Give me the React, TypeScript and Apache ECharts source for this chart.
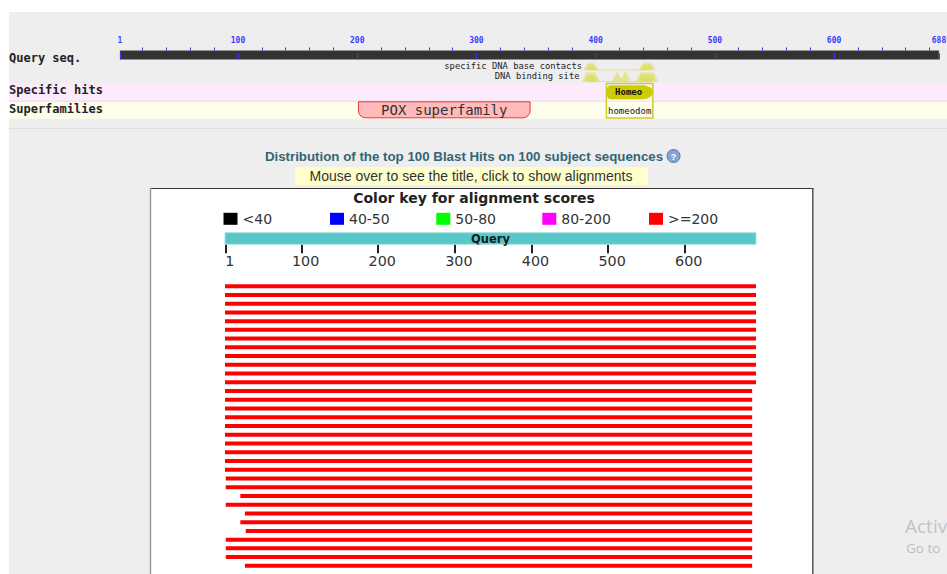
import React, { useEffect, useRef } from "react";
import * as echarts from "echarts";

// ---------------- data ----------------
const rulerMajorTicks = [1, 100, 200, 300, 400, 500, 600, 688];
const rulerMinorTicks = [20, 40, 60, 80, 120, 140, 160, 180, 220, 240, 260, 280, 320, 340, 360, 380, 420, 440, 460, 480, 520, 540, 560, 580, 620, 640, 660, 680];

const featureRows = ["specific DNA base contacts", "DNA binding site"];
const baseContactSites = [394, 396, 398, 440, 442, 444, 446];
const bindingSites = [393, 395, 397, 399, 418, 425, 438, 440, 442, 444, 446, 448];

const domainRows = ["Specific hits", "Superfamilies"];
const domainNames = ["Homeo", "homeodom", "POX superfamily"];
const domainStarts = [409, 409, 201];
const domainEnds = [448, 448, 345];
const domainRowOf = [0, 1, 1];

const scoreClasses = ["<40", "40-50", "50-80", "80-200", ">=200"];
const scoreColors = ["#000000", "#0000ff", "#00ff00", "#ff00ff", "#ff0000"];

const hitAxisTicks = [1, 100, 200, 300, 400, 500, 600];
const queryBar = [0, 693];
const hitStarts = [0, 0, 0, 0, 0, 0, 0, 0, 0, 0, 0, 0, 0, 0, 0, 0, 0, 0, 0, 0, 0, 0, 1, 1, 20, 1, 26, 20, 27, 1, 1, 1, 26];
const hitEnds = [693, 693, 693, 693, 693, 693, 693, 693, 693, 693, 693, 693, 688, 688, 688, 688, 688, 688, 688, 688, 688, 688, 688, 688, 688, 688, 688, 688, 688, 688, 688, 688, 688];
const hitScoreClass = [4, 4, 4, 4, 4, 4, 4, 4, 4, 4, 4, 4, 4, 4, 4, 4, 4, 4, 4, 4, 4, 4, 4, 4, 4, 4, 4, 4, 4, 4, 4, 4, 4];
const hitIds = hitStarts.map((_, i) => "hit " + (i + 1));

// ---------------- styling helpers ----------------
const MONO = "'DejaVu Sans Mono', 'Liberation Mono', monospace";
const ARIAL = "'Liberation Sans', Arial, sans-serif";
const VERDANA = "'DejaVu Sans', Verdana, sans-serif";
const WIN = "'Open Sans', 'Noto Sans', sans-serif";

function txt(x: number, y: number, text: string, o: any = {}) {
  const align = o.align || "left";
  return {
    type: "text",
    x,
    y,
    z: o.z ?? 5,
    silent: true,
    style: {
      text,
      fill: o.color || "#222",
      fontSize: o.size || 12,
      fontFamily: o.family || MONO,
      fontWeight: o.weight || "normal",
      align,
      textAlign: align,
      verticalAlign: "middle",
      textVerticalAlign: "middle",
    },
  };
}
function box(x: number, y: number, w: number, h: number, fill: string, z = -9) {
  return { type: "rect", z, silent: true, shape: { x, y, width: w, height: h }, style: { fill } };
}
function hline(x1: number, x2: number, y: number, stroke: string, lw = 1, z = -8) {
  return { type: "line", z, silent: true, shape: { x1, y1: y, x2, y2: y }, style: { stroke, lineWidth: lw } };
}
function vline(x: number, y1: number, y2: number, stroke: string, lw = 1, z = -8) {
  return { type: "line", z, silent: true, shape: { x1: x, y1, x2: x, y2 }, style: { stroke, lineWidth: lw } };
}
function textStyle(text: string, size: number, family: string, weight: string, fill: string) {
  return {
    text,
    fill,
    fontSize: size,
    fontFamily: family,
    fontWeight: weight,
    align: "center",
    textAlign: "center",
    verticalAlign: "middle",
    textVerticalAlign: "middle",
  };
}

// ---------------- render functions ----------------
function renderDomain(params: any, api: any) {
  const i = params.dataIndex;
  const name = domainNames[i];
  const row = api.value(2);
  const p0 = api.coord([api.value(0), row]);
  const p1 = api.coord([api.value(1), row]);
  const band = api.size([0, 1])[1];
  const x0 = p0[0];
  const x1 = p1[0];
  const cy = p0[1];
  const w = x1 - x0;
  const cx = (x0 + x1) / 2;
  if (row === 0) {
    const top = cy - band / 2 + 1.2;
    const bot = cy + band / 2 - 1.8;
    const my = (top + bot) / 2;
    const hh = (bot - top) / 2;
    const rx = Math.min(11, w / 3);
    const pts: number[][] = [];
    for (let k = -8; k <= 8; k++) {
      const a = (k / 8) * (Math.PI / 2);
      pts.push([x1 - rx + rx * Math.cos(a), my + hh * Math.sin(a)]);
    }
    for (let k = 8; k <= 24; k++) {
      const a = (k / 8) * (Math.PI / 2);
      pts.push([x0 + 4 + 4 * Math.cos(a), my + hh * Math.sin(a)]);
    }
    return {
      type: "group",
      children: [
        {
          type: "rect",
          shape: { x: x0, y: cy - band / 2 - 0.5, width: w, height: band * 2 + 0.5 },
          style: { fill: "rgba(255,255,240,0.35)", stroke: "#cccc30", lineWidth: 1.5 },
        },
        { type: "polygon", shape: { points: pts }, style: { fill: "#cccc00" } },
        { type: "text", x: cx - 1, y: my, style: textStyle(name, 9, MONO, "bold", "#111") },
      ],
    };
  }
  // superfamily row
  const overlapsSpecific = domainNames.some(
    (_, j) => domainRowOf[j] === 0 && domainStarts[j] <= api.value(1) && domainEnds[j] >= api.value(0)
  );
  if (overlapsSpecific) {
    return { type: "text", x: cx, y: cy + 1, style: textStyle(name, 9, MONO, "normal", "#111") };
  }
  return {
    type: "group",
    children: [
      {
        type: "rect",
        shape: { x: x0, y: cy - band / 2 + 0.8, width: w, height: band - 1, r: [0, 0, 7, 7] },
        style: { fill: "#ffbbbb", stroke: "#ee3333", lineWidth: 1 },
      },
      { type: "text", x: cx, y: cy + 0.5, style: textStyle(name, 14, MONO, "normal", "#333") },
    ],
  };
}

function renderQuery(params: any, api: any) {
  const p0 = api.coord([api.value(0), 0]);
  const p1 = api.coord([api.value(1), 0]);
  const h = api.size([0, 1])[1];
  return {
    type: "group",
    children: [
      {
        type: "rect",
        shape: { x: p0[0], y: p0[1] - h / 2, width: p1[0] - p0[0], height: h },
        style: { fill: "#57c7c7", stroke: "#a8e0e0", lineWidth: 1 },
      },
      {
        type: "text",
        x: (p0[0] + p1[0]) / 2,
        y: p0[1],
        style: textStyle("Query", 11.5, VERDANA, "bold", "#1a1a1a"),
      },
    ],
  };
}

function renderHit(params: any, api: any) {
  const row = api.value(2);
  const p0 = api.coord([api.value(0), row]);
  const p1 = api.coord([api.value(1), row]);
  const cls = api.value(3);
  return {
    type: "rect",
    shape: { x: p0[0], y: p0[1] - 2, width: p1[0] - p0[0], height: 4 },
    style: { fill: scoreColors[cls] },
  };
}

// ---------------- option ----------------
function buildOption(): any {
  const hiddenValueY = (gridIndex: number) => ({ type: "value", gridIndex, show: false });
  const hiddenCatY = (gridIndex: number, data: string[]) => ({
    type: "category",
    gridIndex,
    data,
    inverse: true,
    show: false,
  });
  const hiddenX = (gridIndex: number, min: number, max: number) => ({
    type: "value",
    gridIndex,
    min,
    max,
    show: false,
  });

  const legendLeft = [223.5, 330, 436.3, 542.3, 649];

  const graphic = [
    box(9, 12, 938, 562, "#eeeeee", -10),
    box(9, 84, 938, 17, "#fdebfd"),
    box(9, 101.5, 938, 17.5, "#fdfdec"),
    hline(9, 947, 101.2, "#e4dde4"),
    hline(9, 947, 128.5, "#dedede"),
    txt(9, 57.5, "Query seq.", { weight: "bold", size: 12 }),
    txt(9, 90, domainRows[0], { weight: "bold", size: 12 }),
    txt(9, 108.5, domainRows[1], { weight: "bold", size: 12 }),
    txt(582, 65.7, featureRows[0], { size: 8.8, align: "right" }),
    txt(579.5, 76, featureRows[1], { size: 8.8, align: "right" }),
    txt(464, 156, "Distribution of the top 100 Blast Hits on 100 subject sequences", {
      family: ARIAL,
      weight: "bold",
      size: 13.3,
      color: "#336677",
      align: "center",
    }),
    {
      type: "circle",
      z: 5,
      silent: true,
      shape: { cx: 673.5, cy: 156, r: 6.5 },
      style: { fill: "#86a4d2", stroke: "#5b7cb2", lineWidth: 1 },
    },
    txt(673.5, 156.5, "?", { family: ARIAL, weight: "bold", size: 9, color: "#ffffff", align: "center", z: 6 }),
    box(295, 167.3, 353, 17.7, "#ffffcc", -8),
    txt(471, 176.3, "Mouse over to see the title, click to show alignments", {
      family: ARIAL,
      size: 14,
      color: "#333333",
      align: "center",
    }),
    box(150, 188, 663, 400, "#ffffff", -9),
    hline(150, 813.5, 188.5, "#333333", 1, -7),
    vline(150.5, 188, 574, "#9a9a9a", 1.5, -7),
    vline(812.8, 188, 574, "#555555", 1.5, -7),
    txt(474, 198.3, "Color key for alignment scores", {
      family: VERDANA,
      weight: "bold",
      size: 14,
      color: "#222222",
      align: "center",
    }),
    txt(905, 525.5, "Activ", { family: WIN, size: 19, color: "#c3c3c3" }),
    txt(906, 548, "Go to", { family: WIN, size: 13.5, color: "#bdbdbd" }),
  ];

  const series: any[] = [
    {
      type: "scatter",
      name: "base contacts",
      xAxisIndex: 2,
      yAxisIndex: 1,
      silent: true,
      symbol: "triangle",
      symbolSize: [10, 8],
      symbolOffset: [0, "-50%"],
      itemStyle: { color: "rgba(222,222,96,0.8)" },
      data: baseContactSites.map((p) => [p, 0]),
      z: 4,
    },
    {
      type: "scatter",
      name: "binding site",
      xAxisIndex: 2,
      yAxisIndex: 1,
      silent: true,
      symbol: "triangle",
      symbolSize: [11, 10],
      symbolOffset: [0, "-50%"],
      itemStyle: { color: "rgba(222,222,96,0.8)" },
      data: bindingSites.map((p) => [p, 1]),
      z: 4,
    },
    {
      type: "line",
      name: "base line",
      xAxisIndex: 2,
      yAxisIndex: 1,
      silent: true,
      symbol: "none",
      lineStyle: { color: "#e3e38a", width: 1 },
      data: [
        [Math.min(...baseContactSites), 0],
        [Math.max(...baseContactSites), 0],
      ],
      z: 3,
    },
    {
      type: "line",
      name: "binding line",
      xAxisIndex: 2,
      yAxisIndex: 1,
      silent: true,
      symbol: "none",
      lineStyle: { color: "#e3e38a", width: 1 },
      data: [
        [Math.min(...bindingSites), 1],
        [Math.max(...bindingSites), 1],
      ],
      z: 3,
    },
    {
      type: "custom",
      name: "domains",
      xAxisIndex: 3,
      yAxisIndex: 2,
      silent: true,
      renderItem: renderDomain,
      encode: { x: [0, 1], y: 2 },
      data: domainNames.map((_, i) => [domainStarts[i], domainEnds[i], domainRowOf[i]]),
    },
    {
      type: "custom",
      name: "Query",
      xAxisIndex: 4,
      yAxisIndex: 3,
      silent: true,
      renderItem: renderQuery,
      encode: { x: [0, 1], y: 2 },
      data: [[queryBar[0], queryBar[1], 0]],
    },
  ];

  scoreClasses.forEach((cls, ci) => {
    const rows = hitStarts
      .map((s, i) => [s, hitEnds[i], i, hitScoreClass[i]])
      .filter((r) => r[3] === ci);
    series.push({
      type: "custom",
      name: cls,
      xAxisIndex: 5,
      yAxisIndex: 4,
      silent: true,
      itemStyle: { color: scoreColors[ci] },
      renderItem: renderHit,
      encode: { x: [0, 1], y: 2 },
      data: rows,
    });
  });

  return {
    animation: false,
    backgroundColor: "#ffffff",
    graphic: { elements: graphic },
    legend: scoreClasses.map((cls, i) => ({
      data: [{ name: cls, icon: "rect" }],
      left: legendLeft[i],
      top: 211.8,
      padding: 0,
      itemWidth: 14,
      itemHeight: 12,
      selectedMode: false,
      textStyle: { fontSize: 14, color: "#333333", fontFamily: VERDANA },
    })),
    grid: [
      {
        left: 120,
        top: 50.5,
        width: 819,
        height: 9,
        show: true,
        backgroundColor: "#333333",
        borderColor: "#9a9a9a",
        borderWidth: 0.5,
        outerBoundsMode: "none",
      },
      { left: 120, top: 64.25, width: 819, height: 23, outerBoundsMode: "none" },
      { left: 120, top: 84, width: 819, height: 34, outerBoundsMode: "none" },
      { left: 225, top: 232.7, width: 531, height: 11.6, outerBoundsMode: "none" },
      { left: 225, top: 281.8, width: 531, height: 33 * 8.74, outerBoundsMode: "none" },
    ],
    xAxis: [
      {
        type: "value",
        gridIndex: 0,
        min: 1,
        max: 688,
        position: "top",
        axisLine: { show: false },
        splitLine: { show: false },
        axisTick: { show: true, customValues: rulerMajorTicks, length: 6, lineStyle: { color: "#3a3aff", width: 1 } },
        axisLabel: {
          show: true,
          customValues: rulerMajorTicks,
          formatter: (v: number) => String(v),
          color: "#3a3aff",
          fontSize: 8,
          fontWeight: "bold",
          fontFamily: MONO,
          margin: 6,
          showMinLabel: true,
          showMaxLabel: true,
        },
      },
      {
        type: "value",
        gridIndex: 0,
        min: 1,
        max: 688,
        position: "top",
        axisLine: { show: false },
        splitLine: { show: false },
        axisTick: { show: true, customValues: rulerMinorTicks, length: 3, lineStyle: { color: "#3a3aff", width: 1 } },
        axisLabel: { show: false },
      },
      hiddenX(1, 1, 688),
      hiddenX(2, 1, 688),
      {
        type: "value",
        gridIndex: 3,
        min: 0,
        max: 693,
        position: "bottom",
        axisLine: { show: false },
        splitLine: { show: false },
        axisTick: { show: true, customValues: hitAxisTicks, length: 9, lineStyle: { color: "#222222", width: 2 } },
        axisLabel: {
          show: true,
          customValues: hitAxisTicks,
          formatter: (v: number) => String(v),
          color: "#333333",
          fontSize: 14.3,
          fontFamily: VERDANA,
          margin: 10,
          padding: [0, 0, 0, 8],
          showMinLabel: true,
          showMaxLabel: true,
        },
      },
      hiddenX(4, 0, 693),
    ],
    yAxis: [
      hiddenValueY(0),
      hiddenCatY(1, ["base", "binding"]),
      hiddenCatY(2, domainRows),
      hiddenCatY(3, ["Query"]),
      hiddenCatY(4, hitIds),
    ],
    series,
  };
}

export default function App() {
  const ref = useRef<HTMLDivElement>(null);
  useEffect(() => {
    if (!ref.current) return;
    const chart = echarts.init(ref.current, null, { renderer: "svg" });
    chart.setOption(buildOption());
    return () => chart.dispose();
  }, []);
  return (
    <div
      ref={ref}
      style={{ position: "fixed", left: 0, top: 0, width: 947, height: 574, background: "#ffffff" }}
    />
  );
}
